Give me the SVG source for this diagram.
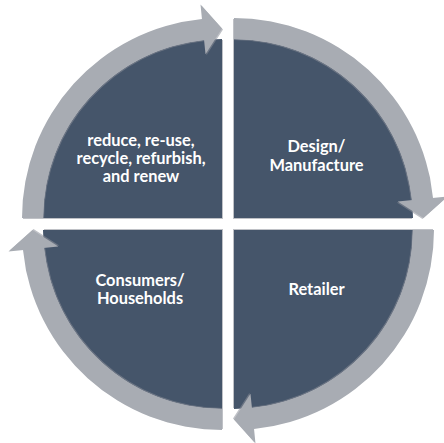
<svg xmlns="http://www.w3.org/2000/svg" xmlns:xlink="http://www.w3.org/1999/xlink" width="444" height="443" viewBox="0 0 444 443">
  <defs>
    <style>
      .slice { fill: #44546A; filter: url(#shade); }
      .ring { fill: #A8ACB3; filter: url(#shade); }
      .label { fill: #FFFFFF; font-family: Lato, "Liberation Sans", sans-serif; font-weight: 700; font-size: 16.4px; text-anchor: middle; }
    </style>
    <filter id="shade" x="-10%" y="-10%" width="120%" height="120%">
      <feDropShadow dx="1" dy="1" stdDeviation="0.7" flood-color="#8a8f98" flood-opacity="0.55"/>
    </filter>
    <!-- quarter disk, corner at origin, opening up-left -->
    <path id="quarter" d="M0,0 L-179,0 A179,179 0 0 1 0,-179 Z"/>
    <!-- curved band with arrowhead, running from the left to the top -->
    <path id="bend" d="M-200,0 A200,200 0 0 1 -20.04,-198.99 L-21.49,-213.42 L0,-189.5 L-16.48,-163.67 L-17.94,-178.1 A179,179 0 0 0 -179,0 Z"/>
  </defs>

  <rect width="444" height="443" fill="#FFFFFF"/>

  <g id="node-renew">
    <use xlink:href="#quarter" href="#quarter" class="slice" transform="translate(222,218)"/>
    <text class="label" x="141" y="145.7">reduce, re-use,</text>
    <text class="label" x="141" y="164">recycle, refurbish,</text>
    <text class="label" x="141" y="182.3">and renew</text>
  </g>

  <g id="node-design">
    <use xlink:href="#quarter" href="#quarter" class="slice" transform="translate(234,218) rotate(90)"/>
    <text class="label" x="316.5" y="152.3">Design/</text>
    <text class="label" x="316.5" y="170.7">Manufacture</text>
  </g>

  <g id="node-retailer">
    <use xlink:href="#quarter" href="#quarter" class="slice" transform="translate(234,230) rotate(180)"/>
    <text class="label" x="316.5" y="295">Retailer</text>
  </g>

  <g id="node-consumers">
    <use xlink:href="#quarter" href="#quarter" class="slice" transform="translate(222,230) rotate(270)"/>
    <text class="label" x="140" y="285.7">Consumers/</text>
    <text class="label" x="140" y="304">Households</text>
  </g>

  <g id="connectors">
    <use xlink:href="#bend" href="#bend" class="ring" transform="translate(222,218)"/>
    <use xlink:href="#bend" href="#bend" class="ring" transform="translate(234,218) rotate(90)"/>
    <use xlink:href="#bend" href="#bend" class="ring" transform="translate(234,230) rotate(180)"/>
    <use xlink:href="#bend" href="#bend" class="ring" transform="translate(222,230) rotate(270)"/>
  </g>
</svg>
